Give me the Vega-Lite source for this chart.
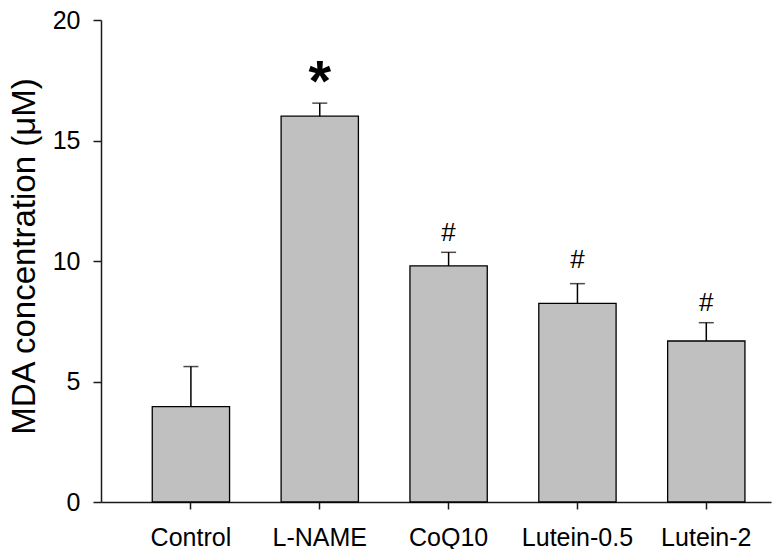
{
  "$schema": "https://vega.github.io/schema/vega-lite/v6.json",
  "width": 670,
  "height": 482,
  "autosize": {"type": "none"},
  "padding": {"left": 101, "top": 20, "right": 2, "bottom": 47},
  "background": "white",
  "config": {
    "view": {"stroke": null},
    "font": "Liberation Sans",
    "axis": {
      "domainColor": "#1a1a1a",
      "tickColor": "#1a1a1a",
      "domainWidth": 1.5,
      "tickWidth": 1.5,
      "labelColor": "black",
      "labelFont": "Liberation Sans",
      "titleColor": "black",
      "grid": false
    }
  },
  "data": {
    "values": [
      {"group": "Control", "mean": 3.96, "upper": 5.62, "sig": "", "sig_y": 0},
      {"group": "L-NAME", "mean": 16.01, "upper": 16.55, "sig": "*", "sig_y": 17.84},
      {"group": "CoQ10", "mean": 9.8, "upper": 10.36, "sig": "#", "sig_y": 11.16},
      {"group": "Lutein-0.5", "mean": 8.24, "upper": 9.06, "sig": "#", "sig_y": 10.04},
      {"group": "Lutein-2", "mean": 6.68, "upper": 7.44, "sig": "#", "sig_y": 8.26}
    ]
  },
  "encoding": {
    "x": {
      "field": "group",
      "type": "nominal",
      "sort": null,
      "scale": {"paddingInner": 0.4, "paddingOuter": 0.3, "align": 0.663},
      "axis": {
        "title": null,
        "labelAngle": 0,
        "labelFontSize": 25,
        "tickSize": 7,
        "labelPadding": 16
      }
    }
  },
  "layer": [
    {
      "mark": {"type": "bar", "fill": "#c0c0c0", "stroke": "black", "strokeWidth": 1.3},
      "encoding": {
        "y": {
          "field": "mean",
          "type": "quantitative",
          "scale": {"domain": [0, 20], "nice": false},
          "axis": {
            "title": "MDA concentration (μM)",
            "titleFont": "Liberation Sans",
            "titleFontSize": 33,
            "titleFontWeight": "normal",
            "titleX": -67,
            "titleY": 236,
            "titleAngle": -90,
            "titleAlign": "center",
            "titleBaseline": "alphabetic",
            "values": [0, 5, 10, 15, 20],
            "labelFontSize": 25,
            "tickSize": 8,
            "labelPadding": 13
          }
        }
      }
    },
    {
      "mark": {"type": "rule", "color": "black", "strokeWidth": 1.5},
      "encoding": {
        "y": {"field": "mean", "type": "quantitative"},
        "y2": {"field": "upper"}
      }
    },
    {
      "mark": {"type": "tick", "color": "black", "thickness": 1.5, "size": 15},
      "encoding": {
        "y": {"field": "upper", "type": "quantitative"}
      }
    },
    {
      "transform": [{"filter": "datum.sig == '#'"}],
      "mark": {"type": "text", "fontSize": 26, "baseline": "middle", "color": "black", "font": "Liberation Sans"},
      "encoding": {
        "y": {"field": "sig_y", "type": "quantitative"},
        "text": {"field": "sig"}
      }
    },
    {
      "transform": [{"filter": "datum.sig == '*'"}],
      "mark": {"type": "text", "fontSize": 58, "baseline": "middle", "dy": 12, "color": "black", "font": "Liberation Sans", "fontWeight": "bold"},
      "encoding": {
        "y": {"field": "sig_y", "type": "quantitative"},
        "text": {"field": "sig"}
      }
    }
  ]
}
